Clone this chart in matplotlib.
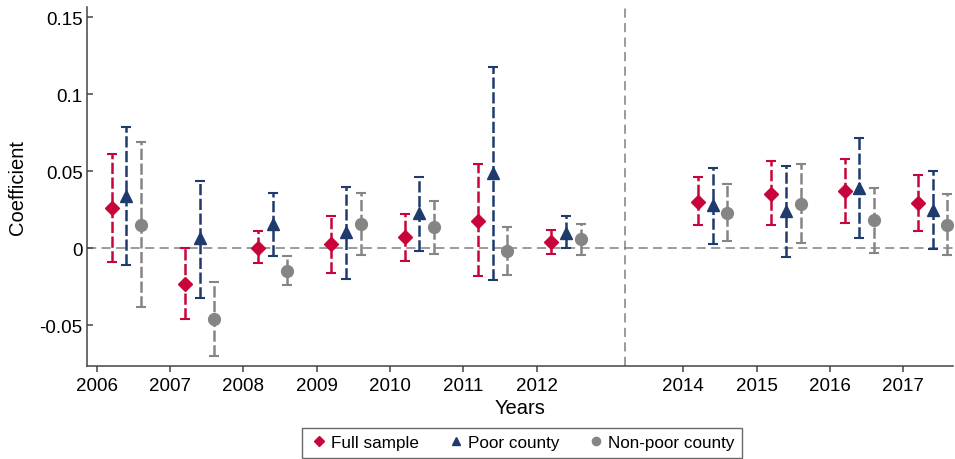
import numpy as np
import matplotlib.pyplot as plt
from matplotlib.lines import Line2D

plt.rcParams['font.family'] = ['Liberation Sans', 'DejaVu Sans']

years = np.array([2006, 2007, 2008, 2009, 2010, 2011, 2012, 2014, 2015, 2016, 2017])
tick_labels = [str(y) for y in years]

# Full sample
full_coef = np.array([0.026, -0.023, 0.000, 0.0026, 0.007, 0.018, 0.004, 0.030, 0.0355, 0.037, 0.0297])
full_lo = np.array([-0.0086, -0.046, -0.0098, -0.016, -0.0084, -0.018, -0.0037, 0.015, 0.015, 0.0162, 0.0113])
full_hi = np.array([0.061, 0.000, 0.011, 0.021, 0.0225, 0.055, 0.0117, 0.046, 0.0567, 0.058, 0.0476])

# Poor county
poor_coef = np.array([0.034, 0.0065, 0.016, 0.0105, 0.023, 0.049, 0.010, 0.028, 0.024, 0.039, 0.025])
poor_lo = np.array([-0.011, -0.032, -0.005, -0.0197, -0.002, -0.0208, 0.000, 0.003, -0.0054, 0.0065, -0.0007])
poor_hi = np.array([0.079, 0.044, 0.036, 0.040, 0.046, 0.118, 0.0208, 0.052, 0.0537, 0.0713, 0.050])

# Non-poor county
nonpoor_coef = np.array([0.015, -0.046, -0.015, 0.016, 0.0136, -0.0015, 0.0058, 0.023, 0.029, 0.0184, 0.0154])
nonpoor_lo = np.array([-0.038, -0.070, -0.024, -0.0045, -0.004, -0.0175, -0.0045, 0.0045, 0.0035, -0.0028, -0.0045])
nonpoor_hi = np.array([0.069, -0.022, -0.005, 0.036, 0.031, 0.014, 0.016, 0.0418, 0.0545, 0.0394, 0.035])

red = '#C8053A'
navy = '#1F3B6E'
grey = '#858585'

series = [
    ("Full sample", full_coef, full_lo, full_hi, 0.2, 'D', red, 7.5),
    ("Poor county", poor_coef, poor_lo, poor_hi, 0.4, '^', navy, 8.5),
    ("Non-poor county", nonpoor_coef, nonpoor_lo, nonpoor_hi, 0.6, 'o', grey, 8.5),
]

fig = plt.figure(figsize=(9.55, 4.6), dpi=100)
ax = fig.add_axes([0.091, 0.202, 0.907, 0.780])

ax.axhline(0, color='#808080', lw=1.1, ls=(0, (6, 3.5)), zorder=1)
ax.axvline(2013.2, color='#808080', lw=1.1, ls=(0, (6, 3.5)), zorder=1)

handles = []
for name, coef, lo, hi, off, mk, col, ms in series:
    eb = ax.errorbar(years + off, coef, yerr=[coef - lo, hi - coef], fmt=mk, color=col,
                     ms=ms, capsize=3.5, elinewidth=1.8, capthick=1.5, zorder=3)
    for ln in eb.lines[2]:
        ln.set_linestyle((0, (4.5, 1.4)))
    handles.append(Line2D([], [], ls='none', marker=mk, color=col, ms=ms * 0.7))

ax.set_xlim(2005.864, 2017.68)
ax.set_ylim(-0.0765, 0.1565)
ax.set_xticks(years)
ax.set_xticklabels(tick_labels)
ax.set_yticks([-0.05, 0, 0.05, 0.1, 0.15])
ax.set_yticklabels(['-0.05', '0', '0.05', '0.1', '0.15'])

for s in ['top', 'right']:
    ax.spines[s].set_visible(False)
for s in ['left', 'bottom']:
    ax.spines[s].set_color('#444444')
    ax.spines[s].set_linewidth(1.1)
ax.tick_params(axis='both', labelsize=13.5, color='#444444', length=4, width=1.1)
ax.tick_params(axis='y', direction='in', pad=3)
ax.tick_params(axis='x', direction='out', pad=4)

ax.set_xlabel("Years", fontsize=14.5, labelpad=3)
ax.set_ylabel("Coefficient", fontsize=14.5, labelpad=9)

fig.legend(handles, [s[0] for s in series], loc='lower center', bbox_to_anchor=(0.547, 0.002),
           ncol=3, fontsize=12.3, frameon=True, fancybox=False, edgecolor='#444444',
           handletextpad=0.15, columnspacing=1.6, borderpad=0.45, handlelength=1.1,
           borderaxespad=0)

fig.savefig('out.png', dpi=100)
